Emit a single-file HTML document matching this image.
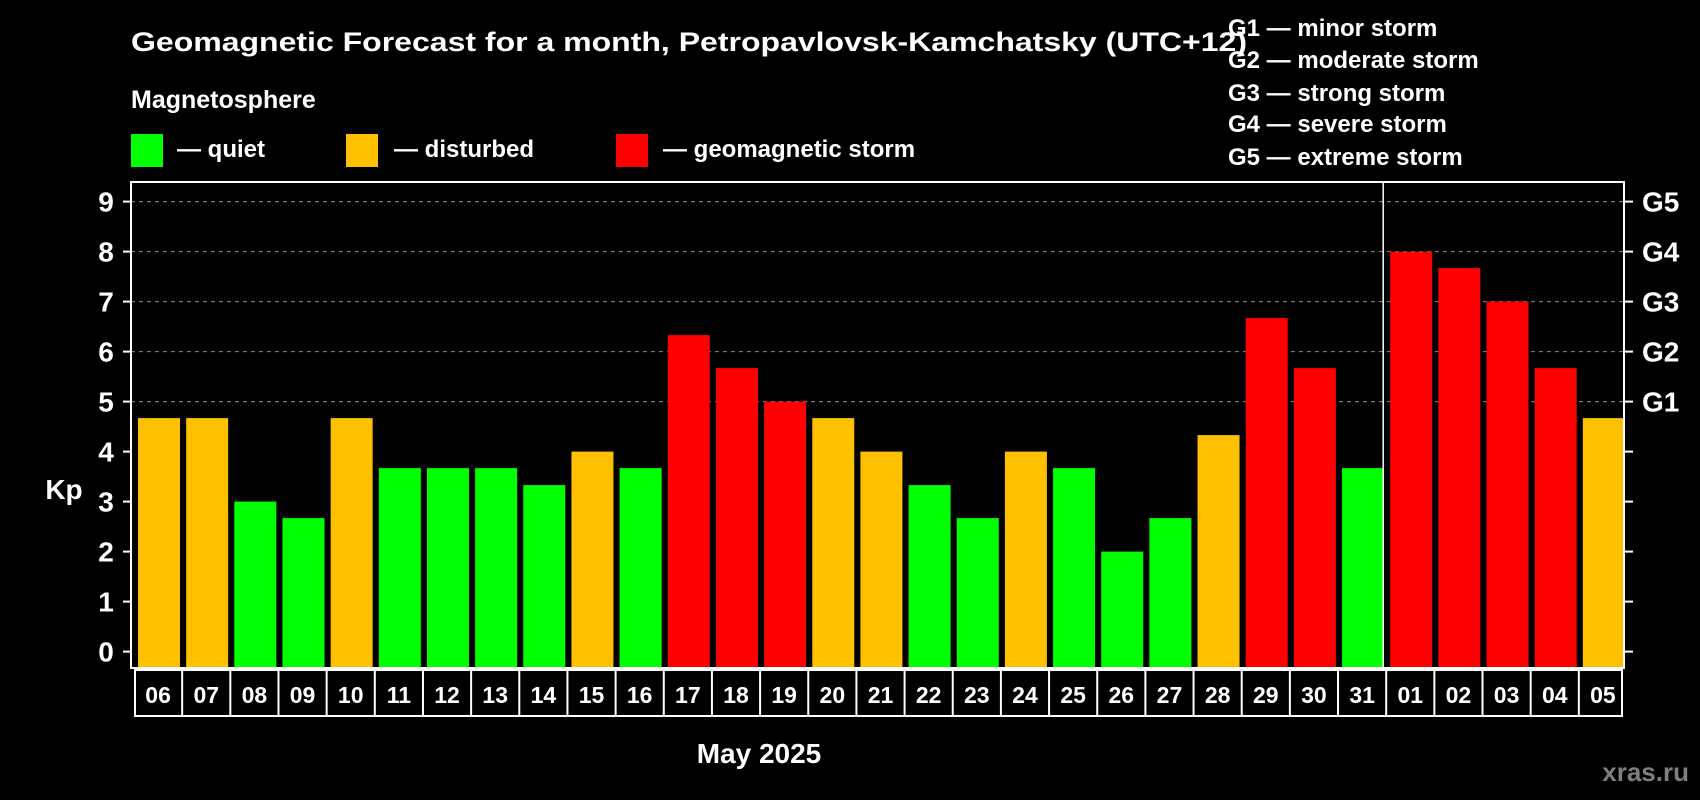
<!DOCTYPE html>
<html><head><meta charset="utf-8"><style>
html,body{margin:0;padding:0;background:#000;width:1700px;height:800px;overflow:hidden}
svg{display:block;font-family:"Liberation Sans",Arial,sans-serif;font-weight:bold}
</style></head><body>
<svg id="chart" width="1700" height="800" viewBox="0 0 1700 800">
<rect x="0" y="0" width="1700" height="800" fill="#000"/>
<text x="131" y="51" font-size="27" fill="#fff" textLength="1116" lengthAdjust="spacingAndGlyphs">Geomagnetic Forecast for a month, Petropavlovsk-Kamchatsky (UTC+12)</text>
<text x="131" y="108" font-size="25" fill="#fff">Magnetosphere</text>
<g><rect x="131" y="134" width="32" height="33" fill="#00ff00"/><text x="177" y="157" font-size="24" fill="#fff">— quiet</text></g>
<g><rect x="346" y="134" width="32" height="33" fill="#ffc000"/><text x="394" y="157" font-size="24" fill="#fff">— disturbed</text></g>
<g><rect x="616" y="134" width="32" height="33" fill="#ff0000"/><text x="663" y="157" font-size="24" fill="#fff">— geomagnetic storm</text></g>
<g font-size="24" fill="#fff">
<text x="1228" y="36">G1 — minor storm</text>
<text x="1228" y="68">G2 — moderate storm</text>
<text x="1228" y="101">G3 — strong storm</text>
<text x="1228" y="132">G4 — severe storm</text>
<text x="1228" y="165">G5 — extreme storm</text>
</g>
<text x="64" y="499" font-size="28" fill="#fff" text-anchor="middle">Kp</text>
<text x="759" y="763" font-size="28" fill="#fff" text-anchor="middle">May 2025</text>
<text x="1689" y="781" font-size="26" fill="#7f7f7f" text-anchor="end">xras.ru</text>
<g id="plot"></g>
</svg>
<script>
const days = ["06","07","08","09","10","11","12","13","14","15","16","17","18","19","20","21","22","23","24","25","26","27","28","29","30","31","01","02","03","04","05"];
const kpValues = [4.67,4.67,3,2.67,4.67,3.67,3.67,3.67,3.33,4,3.67,6.33,5.67,5,4.67,4,3.33,2.67,4,3.67,2,2.67,4.33,6.67,5.67,3.67,8,7.67,7,5.67,4.67];
const yTicks = [0,1,2,3,4,5,6,7,8,9];
const gLabels = ["G1","G2","G3","G4","G5"];
const gLevels = [5,6,7,8,9];
const monthBreakIndex = 26;

const NS = "http://www.w3.org/2000/svg";
const L = 131, R = 1624, T = 182, B = 668;
const slot = (R - L) / days.length;
function yScale(v){ return 651.6 - 50 * v; }
function xScale(i){ return L + slot * i; }
function colorFor(v){ return v >= 5 ? "#ff0000" : (v >= 4 ? "#ffc000" : "#00ff00"); }
function mk(tag, attrs){ const e = document.createElementNS(NS, tag); for (const k in attrs) e.setAttribute(k, attrs[k]); return e; }
const plot = document.getElementById("plot");

// grid lines
gLevels.forEach(v => {
  const g = mk("line", {x1:L, x2:R, y1:yScale(v), y2:yScale(v), stroke:"#8a8a8a", "stroke-width":1, "stroke-dasharray":"4,4"});
  
  
  plot.appendChild(g);
});

// bars
kpValues.forEach((v, i) => {
  const r = mk("rect", {x:xScale(i) + 7, y:yScale(v), width:42, height:B - yScale(v), fill:colorFor(v)});
  
  
  plot.appendChild(r);
});

// month separator
const sep = mk("line", {x1:xScale(monthBreakIndex), x2:xScale(monthBreakIndex), y1:T, y2:B, stroke:"#fff", "stroke-width":1.5});


plot.appendChild(sep);

// frame
const frame = mk("rect", {x:L, y:T, width:R - L, height:B - T, fill:"none", stroke:"#fff", "stroke-width":2});


plot.appendChild(frame);

// left ticks
yTicks.forEach(v => {
  const t = mk("line", {x1:L - 8, x2:L, y1:yScale(v), y2:yScale(v), stroke:"#fff", "stroke-width":2});
  
  
  plot.appendChild(t);
  const lb = mk("text", {x:106, y:yScale(v) + 10, "font-size":28, fill:"#fff", "text-anchor":"middle"});
  lb.textContent = v;
  
  
  plot.appendChild(lb);
  const rt = mk("line", {x1:R, x2:R + 9, y1:yScale(v), y2:yScale(v), stroke:"#fff", "stroke-width":2});
  
  
  plot.appendChild(rt);
});
gLabels.forEach((g, i) => {
  const lb = mk("text", {x:1642, y:yScale(gLevels[i]) + 10, "font-size":28, fill:"#fff"});
  lb.textContent = g;
  
  
  plot.appendChild(lb);
});

// day label row
const rowTop = 670, rowBot = 716;
const row = mk("rect", {x:L + 4, y:rowTop, width:R - L - 6, height:rowBot - rowTop, fill:"none", stroke:"#fff", "stroke-width":2});


plot.appendChild(row);
days.forEach((d, i) => {
  if (i > 0) {
    const s = mk("line", {x1:xScale(i) + 3, x2:xScale(i) + 3, y1:rowTop, y2:rowBot, stroke:"#fff", "stroke-width":2});
    
    
    plot.appendChild(s);
  }
  const t = mk("text", {x:xScale(i) + 3 + slot / 2, y:703, "font-size":23, fill:"#fff", "text-anchor":"middle"});
  t.textContent = d;
  
  
  plot.appendChild(t);
});
</script>
</body></html>
